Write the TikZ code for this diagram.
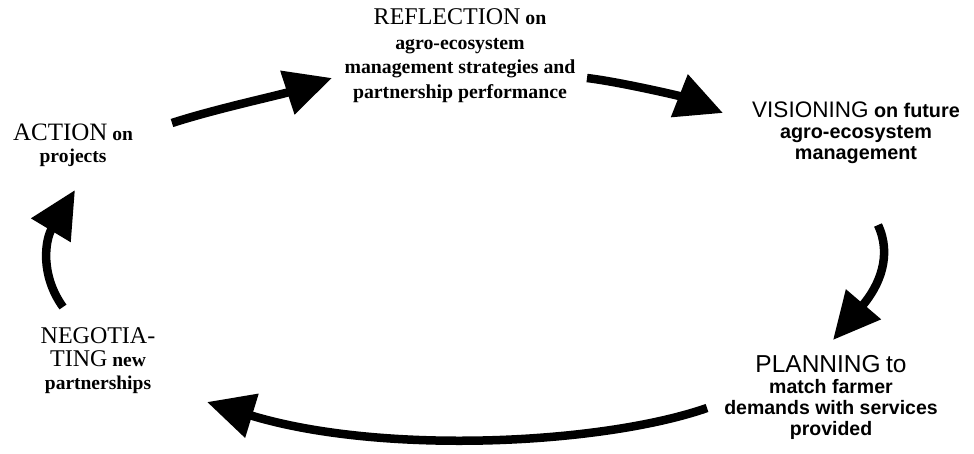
\documentclass[tikz,border=0pt]{standalone}
\usepackage{fontspec}
\setmainfont{Liberation Serif}
\newfontfamily\sansf{Liberation Sans}
\usetikzlibrary{arrows.meta}
\begin{document}
\begin{tikzpicture}[x=1pt,y=-1pt,
  cyc/.style={line width=8.5pt, -{Triangle[length=47pt,width=44pt]}},
  lbl/.style={inner sep=0pt, anchor=north, align=center, text=black}]
\useasboundingbox (0,0) rectangle (974,453);

% labels
\node[lbl, font=\fontsize{19.5}{22}\selectfont\bfseries] (action) at (73,123.5)
  {{\mdseries\fontsize{25}{22}\selectfont ACTION} on\\projects};
\node[lbl, font=\fontsize{19.8}{24.5}\selectfont\bfseries] (reflection) at (460,8.5)
  {{\mdseries\fontsize{24}{24.5}\selectfont REFLECTION} on\\agro-ecosystem\\management strategies and\\partnership performance};
\node[lbl, font=\sansf\fontsize{19.8}{21}\selectfont\bfseries] (visioning) at (856,102)
  {{\mdseries\fontsize{22.5}{21}\selectfont VISIONING} on future\\agro-ecosystem\\management};
\node[lbl, font=\sansf\fontsize{19.5}{21}\selectfont\bfseries] (planning) at (831,355.5)
  {{\mdseries\fontsize{24.5}{21}\selectfont PLANNING} {\mdseries\fontsize{24.5}{21}\selectfont to}\\match farmer\\demands with services\\provided};
\node[lbl, font=\fontsize{19.5}{23}\selectfont\bfseries] (negotiating) at (98,327)
  {{\mdseries\fontsize{24}{23}\selectfont NEGOTIA-}\\{\mdseries\fontsize{24}{23}\selectfont TING} new\\partnerships};

% arrow end points
\coordinate (a1s) at (172,123);  \coordinate (a1e) at (332,78);
\coordinate (a2s) at (587,78);   \coordinate (a2e) at (723,113);
\coordinate (a3s) at (878,225);  \coordinate (a3e) at (833,340);
\coordinate (a4s) at (707,408);  \coordinate (a4e) at (207,402);
\coordinate (a5s) at (63,307);   \coordinate (a5e) at (75,190);

% cycle arrows
\draw[cyc] (a1s) .. controls (215,109) and (280,95) .. (a1e);
\draw[cyc] (a2s) .. controls (620,82) and (680,96) .. (a2e);
\draw[cyc] (a3s) .. controls (892,255) and (880,285) .. (a3e);
\draw[cyc] (a4s) .. controls (600,445) and (380,455) .. (a4e);
\draw[cyc] (a5s) .. controls (40,275) and (45,240) .. (a5e);
\end{tikzpicture}
\end{document}
